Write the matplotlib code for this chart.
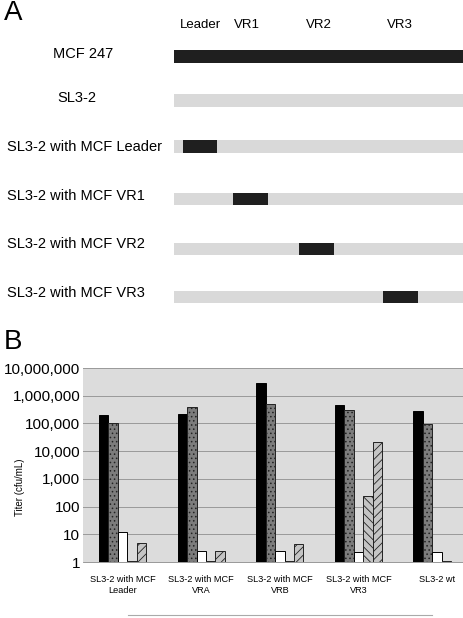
import matplotlib
matplotlib.use("Agg")
import matplotlib.pyplot as plt
import numpy as np
from matplotlib.lines import Line2D
from matplotlib.ticker import FixedLocator, FuncFormatter

plt.rcParams['font.family'] = ['Liberation Sans', 'DejaVu Sans']

# ---------------- data ----------------
# Panel A: constructs and swapped regions (fraction of genome bar length)
region_names = ["Leader", "VR1", "VR2", "VR3"]
region_start = [0.031, 0.204, 0.433, 0.723]
region_end = [0.149, 0.325, 0.554, 0.844]
region_label_pos = [0.093, 0.254, 0.50, 0.78]
construct_names = ["MCF 247", "SL3-2", "SL3-2 with MCF Leader",
                   "SL3-2 with MCF VR1", "SL3-2 with MCF VR2", "SL3-2 with MCF VR3"]
construct_mcf_region = ["all", None, "Leader", "VR1", "VR2", "VR3"]

# Panel B: titers
categories = ["SL3-2 with MCF\nLeader", "SL3-2 with MCF\nVRA", "SL3-2 with MCF\nVRB",
              "SL3-2 with MCF\nVR3", "SL3-2 wt"]
series1 = [200000, 220000, 2900000, 480000, 290000]   # black
series2 = [100000, 400000, 500000, 300000, 95000]     # gray
series3 = [12, 2.5, 2.4, 2.3, 2.3]                    # white
series4 = [1.05, 1.05, 1.05, 240, 1.05]               # hatched
series5 = [5, 2.5, 4.6, 21000, np.nan]                # hatched
ytick_values = [1, 10, 100, 1000, 10000, 100000, 1000000, 10000000]

# ---------------- figure ----------------
W, H = 463, 618
fig = plt.figure(figsize=(W / 100, H / 100), dpi=100)

# Panel A axes: top 320 px, x data 0..1 maps to px 174..463
axA = fig.add_axes([0, 1 - 320 / H, 1, 320 / H])
axA.set_xlim(-174 / 289, 1)
axA.set_ylim(320, 0)
axA.axis('off')

row_y = [56.5, 100.5, 146.5, 199, 249, 297]
text_y = [54, 97.5, 147, 196, 244, 293]
bar_h = 12.5
dark = "#1f1f1f"
light = "#d9d9d9"

for i, (name, reg) in enumerate(zip(construct_names, construct_mcf_region)):
    if reg == "all":
        axA.barh(row_y[i], 1.0, left=0, height=bar_h, color=dark, edgecolor='none')
    else:
        axA.barh(row_y[i], 1.0, left=0, height=bar_h, color=light, edgecolor='none')
        if reg is not None:
            k = region_names.index(reg)
            axA.barh(row_y[i], region_end[k] - region_start[k], left=region_start[k],
                     height=bar_h, color=dark, edgecolor='none')

# row labels
axA.text(-0.315, text_y[0], construct_names[0], ha='center', va='center', fontsize=10.5)
axA.text(-0.336, text_y[1], construct_names[1], ha='center', va='center', fontsize=10.5)
for i in range(2, 6):
    axA.text(-0.578, text_y[i], construct_names[i], ha='left', va='center', fontsize=10.5)

for nm, xp in zip(region_names, region_label_pos):
    axA.text(xp, 25, nm, ha='center', va='center', fontsize=9.5)

fig.text(4 / W, 1 - 13 / H, "A", fontsize=20, ha='left', va='center')
fig.text(4 / W, 1 - 342 / H, "B", fontsize=20, ha='left', va='center')

# Panel B axes
left_px, right_px, top_px, bot_px = 83, 463, 368, 562
axB = fig.add_axes([left_px / W, 1 - bot_px / H, (right_px - left_px) / W, (bot_px - top_px) / H])
axB.set_facecolor("#dcdcdc")
axB.set_yscale('log')
axB.set_ylim(1, 1e7)
axB.set_xlim(-0.504, 4.33)

x = np.arange(len(categories))
bw = 0.12
offs = [-2, -1, 0, 1, 2]
styles = [
    dict(color="#000000", edgecolor="#000000"),
    dict(color="#7c7c7c", edgecolor="#222222", hatch="...."),
    dict(color="#ffffff", edgecolor="#000000"),
    dict(color="#c4c4c4", edgecolor="#222222", hatch="\\\\\\\\"),
    dict(color="#c4c4c4", edgecolor="#222222", hatch="////"),
]
all_series = [series1, series2, series3, series4, series5]
plt.rcParams['hatch.linewidth'] = 0.6
for s, off, st in zip(all_series, offs, styles):
    vals = np.array(s, dtype=float)
    axB.bar(x + off * bw, vals - 1, bottom=1, width=bw, linewidth=0.7, zorder=3, **st)

axB.yaxis.set_major_locator(FixedLocator(ytick_values))
axB.yaxis.set_minor_locator(FixedLocator([]))
axB.yaxis.set_major_formatter(FuncFormatter(lambda v, p: f"{int(round(v)):,}"))
axB.grid(axis='y', color="#999999", linewidth=0.7, zorder=0)
axB.set_xticks(x)
axB.set_xticklabels(categories, fontsize=6.6, linespacing=1.3)
axB.tick_params(axis='both', length=0)
axB.tick_params(axis='y', labelsize=11, pad=2)
axB.tick_params(axis='x', pad=9)
for sp in axB.spines.values():
    sp.set_visible(False)
axB.spines['bottom'].set_visible(True)
axB.spines['bottom'].set_color("#888888")
axB.spines['bottom'].set_linewidth(0.6)

fig.text(20 / W, 1 - 487 / H, "Titer (cfu/mL)", rotation=90, ha='center', va='center', fontsize=7)

fig.add_artist(Line2D([128 / W, 432 / W], [1 - 615 / H, 1 - 615 / H],
                      color="#aaaaaa", linewidth=0.8))

fig.savefig("out.png", dpi=100)
